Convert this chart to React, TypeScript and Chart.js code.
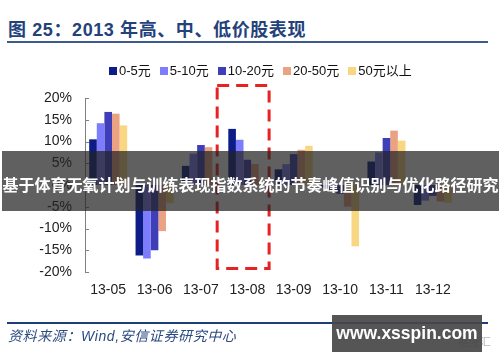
import React, { useEffect, useRef } from 'react';
import { Chart, registerables } from 'chart.js';

Chart.register(...registerables);

const categories = ['13-05', '13-06', '13-07', '13-08', '13-09', '13-10', '13-11', '13-12'];
const seriesNames = ['0-5元', '5-10元', '10-20元', '20-50元', '50元以上'];
const seriesColors = ['#0E1C88', '#7C7CFC', '#3E3EB8', '#EBA283', '#F9D682'];

const price0to5 = [10.5, -16.2, 4.4, 12.9, 3.6, -0.6, 5.4, -4.6];
const price5to10 = [14.2, -16.9, 7.2, 10.4, 4.8, -1.3, 7.5, -3.6];
const price10to20 = [16.8, -15.0, 9.2, 5.8, 7.1, -2.0, 10.8, -2.5];
const price20to50 = [16.4, -10.6, 8.7, 4.8, 8.1, -5.0, 12.5, -3.8];
const price50up = [13.7, -4.2, 0.5, 0.8, 9.0, -14.1, 10.2, -4.1];

const seriesValues = [price0to5, price5to10, price10to20, price20to50, price50up];

const yMin = -20;
const yMax = 20;
const yStep = 5;

const highlightCategory = '13-08';
const highlightTop = 22.9;
const highlightBottom = -19.2;

const titleText = '图 25：2013 年高、中、低价股表现';
const sourceText = '资料来源：Wind,安信证券研究中心';
const bannerText = '基于体育无氧计划与训练表现指数系统的节奏峰值识别与优化路径研究';
const watermarkText = 'www.xsspin.com';

const FONT = '"Liberation Sans", Arial, "Noto Sans CJK SC", sans-serif';

const innerTicks = {
  id: 'innerTicks',
  afterDraw(chart: any) {
    const y = chart.scales.y;
    const ctx = chart.ctx;
    const left = chart.chartArea.left;
    ctx.save();
    ctx.strokeStyle = '#808080';
    ctx.lineWidth = 1;
    y.ticks.forEach((t: any) => {
      const py = Math.round(y.getPixelForValue(t.value)) + 0.5;
      ctx.beginPath();
      ctx.moveTo(left, py);
      ctx.lineTo(left + 4, py);
      ctx.stroke();
    });
    ctx.restore();
  },
};

const highlightBox = {
  id: 'highlightBox',
  afterDatasetsDraw(chart: any) {
    const x = chart.scales.x;
    const y = chart.scales.y;
    const ctx = chart.ctx;
    const i = categories.indexOf(highlightCategory);
    const cw = x.getPixelForValue(1) - x.getPixelForValue(0);
    const cx = x.getPixelForValue(i);
    const l = cx - 0.65 * cw;
    const r = cx + 0.47 * cw;
    const t = y.getPixelForValue(highlightTop);
    const b = y.getPixelForValue(highlightBottom);
    ctx.save();
    ctx.strokeStyle = '#E62222';
    ctx.lineWidth = 3;
    ctx.setLineDash([12, 7]);
    ctx.strokeRect(l, t, r - l, b - t);
    ctx.restore();
  },
};

export default function App() {
  const canvasRef = useRef<HTMLCanvasElement | null>(null);

  useEffect(() => {
    if (!canvasRef.current) return;
    const chart = new Chart(canvasRef.current, {
      type: 'bar',
      data: {
        labels: categories,
        datasets: seriesNames.map((name, k) => ({
          label: name,
          data: seriesValues[k],
          backgroundColor: seriesColors[k],
          borderWidth: 0,
          categoryPercentage: 0.82,
          barPercentage: 1.0,
        })),
      },
      options: {
        animation: false,
        responsive: false,
        maintainAspectRatio: false,
        layout: { padding: { left: 0, right: 44, top: 98, bottom: 60 } },
        plugins: {
          legend: { display: false },
          title: { display: false },
          tooltip: { enabled: false },
        },
        scales: {
          x: {
            grid: { display: false, drawTicks: false },
            border: { display: false },
            ticks: {
              color: '#222',
              font: { family: FONT, size: 14 },
              padding: 10,
              maxRotation: 0,
            },
            afterFit: (s: any) => {
              s.height = 30;
            },
          },
          y: {
            min: yMin,
            max: yMax,
            grid: { display: false, drawTicks: false },
            border: { display: true, color: '#808080', width: 1 },
            ticks: {
              stepSize: yStep,
              color: '#222',
              font: { family: FONT, size: 14 },
              padding: 13,
              callback: (v: any) => `${v}%`,
            },
            afterFit: (s: any) => {
              s.width = 85;
            },
          },
        },
      },
      plugins: [innerTicks, highlightBox],
    });
    return () => chart.destroy();
  }, []);

  return (
    <div
      style={{
        position: 'absolute',
        left: 0,
        top: 0,
        width: 500,
        height: 362,
        background: '#fff',
        overflow: 'hidden',
        fontFamily: FONT,
      }}
    >
      <div
        style={{
          position: 'absolute',
          left: 8,
          top: 19,
          fontSize: 18,
          fontWeight: 'bold',
          color: '#23417A',
          whiteSpace: 'nowrap',
          lineHeight: '22px',
          letterSpacing: 0.6,
        }}
      >
        {titleText}
      </div>
      <div style={{ position: 'absolute', left: 7, top: 41, width: 481, height: 2, background: '#3D5A8E' }} />
      <canvas ref={canvasRef} width={500} height={362} style={{ position: 'absolute', left: 0, top: 0 }} />
      <div
        style={{
          position: 'absolute',
          left: 109,
          top: 62,
          display: 'flex',
          alignItems: 'center',
          fontSize: 13,
          color: '#111',
          whiteSpace: 'nowrap',
          lineHeight: '18px',
        }}
      >
        {seriesNames.map((n, k) => (
          <div key={n} style={{ display: 'flex', alignItems: 'center', marginRight: 9 }}>
            <span style={{ display: 'inline-block', width: 8, height: 8, background: seriesColors[k], marginRight: 2 }} />
            <span>{n}</span>
          </div>
        ))}
      </div>
      <div
        style={{
          position: 'absolute',
          left: 2,
          top: 151,
          width: 497,
          height: 60,
          background: 'rgba(35,35,35,0.72)',
        }}
      />
      <div
        style={{
          position: 'absolute',
          left: 2,
          top: 175,
          width: 497,
          textAlign: 'center',
          color: '#fff',
          fontWeight: 'bold',
          fontSize: 16,
          lineHeight: '19px',
          whiteSpace: 'nowrap',
          fontFamily: '"Noto Sans CJK SC", sans-serif',
        }}
      >
        {bannerText}
      </div>
      <div style={{ position: 'absolute', left: 7, top: 322, width: 481, height: 2, background: '#1E3E78' }} />
      <div
        style={{
          position: 'absolute',
          left: 8,
          top: 328,
          fontSize: 14,
          fontStyle: 'italic',
          color: '#2B4B80',
          letterSpacing: 0.6,
          whiteSpace: 'nowrap',
          lineHeight: '17px',
        }}
      >
        {sourceText}
      </div>
      <div
        style={{
          position: 'absolute',
          left: 458,
          top: 333,
          fontSize: 11,
          color: '#b8b8b8',
          whiteSpace: 'nowrap',
          fontFamily: '"Noto Sans CJK SC", sans-serif',
        }}
      >
        格隆汇
      </div>
      <div
        style={{
          position: 'absolute',
          left: 332,
          top: 315,
          width: 150,
          height: 37,
          background: 'rgba(70,70,70,0.92)',
          color: '#fff',
          fontWeight: 'bold',
          fontSize: 17.5,
          lineHeight: '37px',
          textAlign: 'center',
          whiteSpace: 'nowrap',
        }}
      >
        {watermarkText}
      </div>
    </div>
  );
}
